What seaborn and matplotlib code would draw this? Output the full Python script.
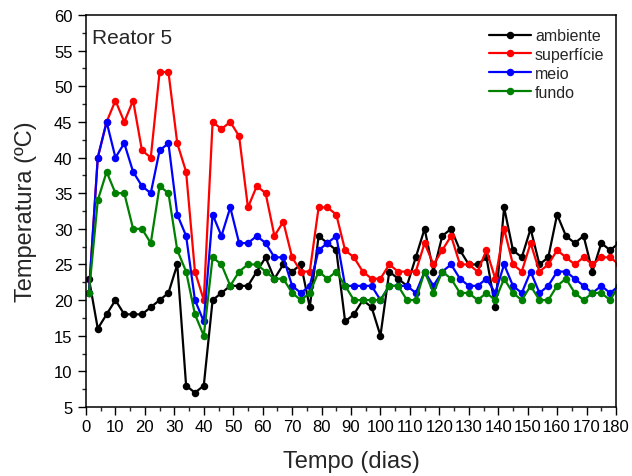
import matplotlib
matplotlib.use("Agg")
import matplotlib.pyplot as plt
import seaborn as sns
import pandas as pd
from matplotlib.ticker import MultipleLocator

# ---- data ----
dias = list(range(1, 182, 3))
ambiente = [23, 16, 18, 20, 18, 18, 18, 19, 20, 21, 25, 8, 7, 8, 20, 21, 22, 22, 22, 24, 26,
            23, 25, 24, 25, 19, 29, 28, 27, 17, 18, 20, 19, 15, 24, 23, 22, 26, 30, 24, 29,
            30, 27, 25, 25, 26, 19, 33, 27, 26, 30, 25, 26, 32, 29, 28, 29, 24, 28, 27, 28]
superficie = [21, 40, 45, 48, 45, 48, 41, 40, 52, 52, 42, 38, 24, 20, 45, 44, 45, 43, 33, 36, 35,
              29, 31, 26, 24, 24, 33, 33, 32, 27, 26, 24, 23, 23, 25, 24, 24, 24, 28, 25, 27,
              29, 25, 25, 24, 27, 23, 30, 25, 24, 28, 24, 25, 27, 26, 25, 26, 25, 26, 26, 25]
meio = [21, 40, 45, 40, 42, 38, 36, 35, 41, 42, 32, 29, 20, 17, 32, 29, 33, 28, 28, 29, 28,
        26, 26, 22, 21, 22, 27, 28, 29, 22, 22, 22, 22, 20, 22, 22, 22, 21, 24, 22, 24,
        25, 23, 22, 22, 23, 21, 25, 22, 21, 24, 21, 22, 24, 24, 23, 22, 21, 22, 21, 22]
fundo = [21, 34, 38, 35, 35, 30, 30, 28, 36, 35, 27, 24, 18, 15, 26, 25, 22, 24, 25, 25, 24,
         23, 23, 21, 20, 21, 24, 23, 24, 22, 20, 20, 20, 20, 22, 22, 20, 20, 24, 21, 24,
         23, 21, 21, 20, 21, 20, 23, 21, 20, 22, 20, 20, 22, 23, 21, 20, 21, 21, 20, 22]

series_names = ["ambiente", "superfície", "meio", "fundo"]
series_values = [ambiente, superficie, meio, fundo]
series_colors = ["#000000", "#FF0000", "#0000FF", "#008000"]

x_ticks = list(range(0, 181, 10))
y_ticks = list(range(5, 61, 5))

# ---- style ----
sns.set_style("ticks")
plt.rcParams["font.family"] = ["Liberation Sans", "DejaVu Sans"]

fig = plt.figure(figsize=(6.32, 4.77), dpi=100)
ax = fig.add_axes([86 / 632, 69 / 477, 530 / 632, 392 / 477])

for name, vals, col in zip(series_names, series_values, series_colors):
    df = pd.DataFrame({"dia": dias, "temp": vals})
    sns.lineplot(data=df, x="dia", y="temp", ax=ax, color=col, label=name,
                 marker="o", markersize=5.4, markeredgewidth=0, linewidth=1.6,
                 sort=False, estimator=None)

ax.set_xlim(0, 180)
ax.set_ylim(5, 60)
ax.set_xticks(x_ticks)
ax.set_yticks(y_ticks)
ax.xaxis.set_minor_locator(MultipleLocator(5))
ax.yaxis.set_minor_locator(MultipleLocator(2.5))
ax.tick_params(axis="both", which="major", direction="out", length=5.5, width=1.0,
               labelsize=12, colors="black")
ax.tick_params(axis="y", which="major", pad=4.2)
ax.tick_params(axis="x", which="major", pad=3.5)
ax.tick_params(axis="both", which="minor", direction="out", length=3, width=1.0)
ax.tick_params(top=False, right=False, which="both")
for sp in ax.spines.values():
    sp.set_visible(True)
    sp.set_linewidth(1.1)
    sp.set_color("black")

ax.set_xlabel("Tempo (dias)", fontsize=17)
ax.set_ylabel("Temperatura (ºC)", fontsize=17)
ax.xaxis.set_label_coords(0.5, -0.11)
ax.yaxis.set_label_coords(-0.093, 0.5)

ax.text(0.012, 0.968, "Reator 5", transform=ax.transAxes, fontsize=15,
        ha="left", va="top")

leg = ax.legend(loc="upper left", bbox_to_anchor=(0.74, 0.995), frameon=False,
                fontsize=11.5, handlelength=2.6, handletextpad=0.25,
                labelspacing=0.24, borderaxespad=0.3)

fig.savefig("out.png", dpi=100)
